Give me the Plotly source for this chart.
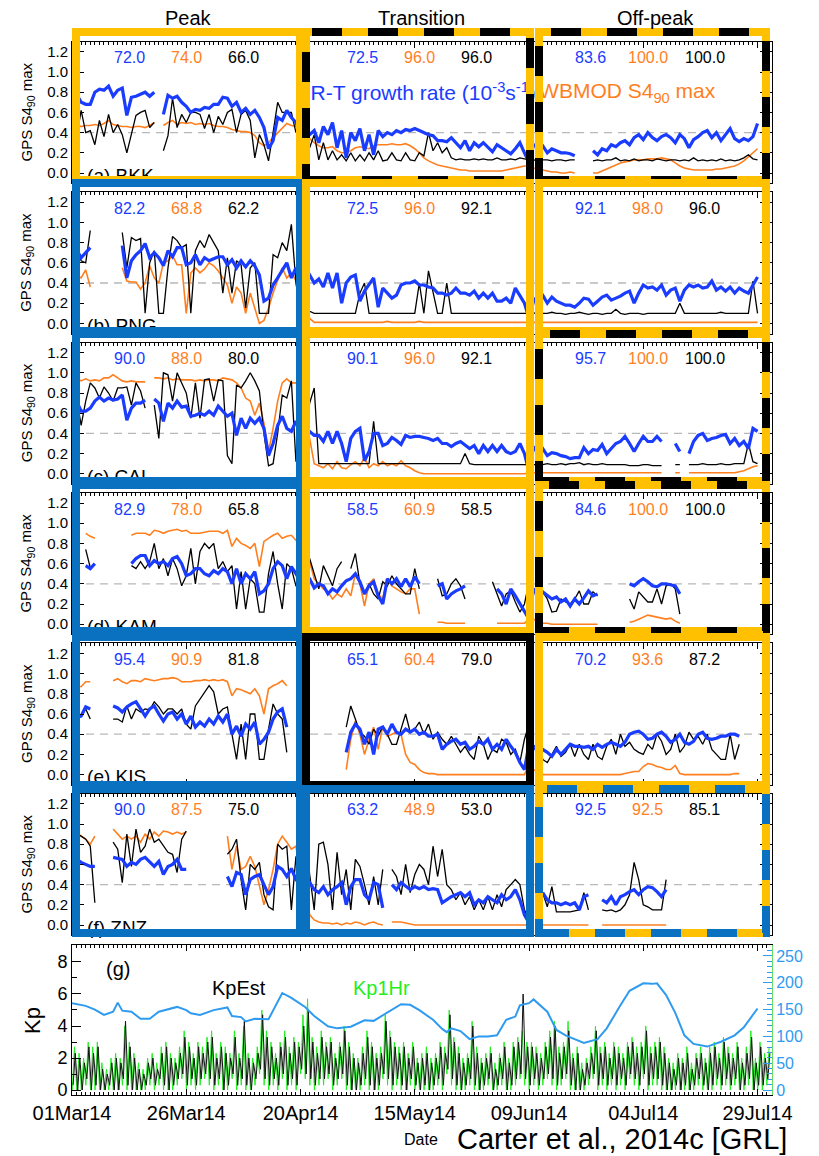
import pandas as pd
import plotly.graph_objects as go
from plotly.subplots import make_subplots

START = "2014-03-01"
NDAYS = 151
_ = None

def pad(v, n=NDAYS):
    return (list(v) + [None] * n)[:n]

# ---------------- S4 panel data (daily, from 01Mar14) ----------------
bkk_rt = [0.80,0.78,0.70,0.68,0.68,0.80,0.83,0.82,0.86,0.76,
          0.82,0.84,0.57,0.75,0.76,0.78,0.80,0.76,0.80,_,
          0.58,0.77,0.74,0.76,0.70,0.66,0.60,0.63,0.62,0.65,
          0.64,0.68,0.68,0.75,0.74,0.66,0.70,0.60,0.64,0.58,
          0.62,0.55,0.45,0.24,0.32,0.55,0.52,0.62,0.55,0.50,
          0.40,0.48,0.38,0.42,0.30,0.46,0.38,0.50,0.25,0.42,
          0.15,0.40,0.32,0.44,0.22,0.38,0.18,0.42,0.36,0.40,
          0.38,0.42,0.40,0.43,0.42,0.44,0.42,0.40,0.38,0.37,
          0.32,0.32,0.31,0.35,0.30,0.25,0.32,0.22,0.30,0.26,
          0.30,0.25,0.21,0.28,0.25,0.22,0.19,0.24,0.30,0.20,
          0.10,0.28,0.26,0.27,0.20,0.24,0.22,0.20,0.20,0.19,
          0.17,_,_,_,0.22,0.18,0.24,0.22,0.28,0.26,
          0.30,0.32,0.28,0.35,0.38,0.33,0.40,0.35,0.32,0.36,
          0.38,0.35,0.30,0.38,0.34,0.25,0.33,0.36,0.40,0.42,
          0.35,0.40,0.32,0.38,0.44,0.34,0.31,0.34,0.32,0.36,0.49]
bkk_gps = [0.40,0.35,0.62,0.40,0.42,0.28,0.52,0.36,0.58,0.40,
           0.48,0.38,0.20,0.38,0.57,0.60,0.62,0.45,0.50,_,
           0.22,0.37,0.74,0.45,0.58,0.50,0.60,0.60,0.58,0.44,
           0.58,0.40,0.56,0.48,0.60,0.63,0.40,0.58,0.62,0.52,
           0.15,0.38,0.28,0.12,0.40,0.70,0.60,0.60,0.60,0.40,
           0.60,0.55,0.25,0.38,0.13,0.30,0.13,0.22,0.13,0.18,
           0.12,0.20,0.12,0.18,0.12,0.20,0.13,0.22,0.12,0.13,
           0.20,0.13,0.12,0.20,0.13,0.12,0.20,0.17,0.40,0.22,
           0.30,0.20,0.25,0.15,0.13,0.14,0.13,0.13,0.14,0.13,
           0.14,0.13,0.13,0.15,0.13,0.13,0.14,0.13,0.15,0.14,
           0.13,0.13,0.12,0.13,0.13,0.12,0.13,0.13,0.12,0.13,
           0.13,_,_,_,0.12,0.13,0.12,0.13,0.13,0.15,
           0.12,0.13,0.12,0.14,0.12,0.13,0.13,0.12,0.14,0.13,
           0.12,0.13,0.13,0.12,0.13,0.12,0.15,0.12,0.13,0.12,
           0.13,0.12,0.14,0.12,0.13,0.12,0.13,0.15,0.18,0.14,0.13]
bkk_wb = [0.49,0.48,0.46,0.47,0.47,0.48,0.47,0.49,0.52,0.48,
          0.47,0.46,0.46,0.45,0.46,0.46,0.45,0.47,0.50,_,
          0.47,0.50,0.52,0.48,0.50,0.49,0.50,0.48,0.49,0.48,
          0.49,0.47,0.46,0.46,0.45,0.43,0.42,0.41,0.41,0.40,
          0.37,0.30,0.27,0.30,0.35,0.40,0.45,0.49,0.47,0.46,
          0.43,0.38,0.34,0.30,0.27,0.25,0.25,0.26,0.22,0.20,
          0.20,0.22,0.25,0.26,0.25,0.24,0.27,0.28,0.28,0.28,
          0.29,0.28,0.28,0.29,0.27,0.24,0.20,0.15,0.12,0.10,
          0.08,0.07,0.06,0.05,0.04,0.03,0.03,0.02,0.02,0.02,
          0.02,0.02,0.02,0.02,0.02,0.03,0.04,0.05,0.06,0.07,
          0.07,0.05,0.04,0.03,0.02,0.01,0.01,0.00,0.00,0.01,
          0.00,_,_,_,0.00,0.00,0.02,0.04,0.06,0.08,
          0.10,0.11,0.12,0.13,0.13,0.13,0.14,0.14,0.14,0.15,
          0.14,0.13,0.10,0.07,0.05,0.04,0.03,0.03,0.03,0.03,
          0.03,0.04,0.04,0.05,0.06,0.07,0.09,0.12,0.16,0.20,0.24]

png_rt = [0.78,0.73,0.65,0.70,0.75,_,_,_,_,_,
          _,0.77,0.45,0.62,0.68,0.72,0.79,0.65,0.70,0.65,
          0.57,0.72,0.66,0.75,0.75,0.58,0.60,0.68,0.58,0.65,
          0.62,0.64,0.66,0.66,0.58,0.63,0.55,0.62,0.56,0.62,
          0.57,0.48,0.22,0.25,0.38,0.45,0.52,0.60,0.45,0.55,
          0.40,0.42,0.48,0.40,0.44,0.36,0.50,0.35,0.50,0.20,
          0.40,0.46,0.48,0.22,0.32,0.38,0.45,0.16,0.35,0.30,
          0.25,0.28,0.38,0.40,0.40,0.42,0.38,0.38,0.36,0.35,
          0.30,0.30,0.28,0.30,0.35,0.30,0.30,0.28,0.32,0.25,
          0.30,0.25,0.30,0.22,0.22,0.25,0.20,0.35,0.28,0.20,
          0.05,0.22,0.28,0.28,0.20,0.26,0.22,0.20,0.18,0.18,
          0.16,0.20,0.25,0.24,0.18,0.22,0.26,0.28,0.23,0.25,
          0.27,0.30,0.32,0.20,0.30,0.38,0.35,0.36,0.33,0.38,
          0.28,0.33,0.35,0.22,0.33,0.38,0.36,0.38,0.35,0.36,
          0.42,0.33,0.36,0.32,0.36,0.30,0.35,0.32,0.30,0.38,0.46]
png_gps = [0.78,0.75,0.62,0.60,0.92,_,_,_,_,_,
           _,0.90,0.55,0.85,0.82,0.84,0.10,0.60,0.72,0.10,
           0.10,0.55,0.86,0.82,0.75,0.78,0.10,0.72,0.82,0.75,
           0.88,0.80,0.72,0.30,0.65,0.30,0.62,0.58,0.15,0.55,
           0.60,0.10,0.10,0.10,0.68,0.65,0.80,0.72,0.98,0.40,
           0.10,0.18,0.12,0.10,0.10,0.10,0.10,0.10,0.10,0.10,
           0.10,0.10,0.10,0.30,0.40,0.10,0.10,0.10,0.10,0.10,
           0.10,0.10,0.10,0.10,0.10,0.10,0.40,0.10,0.52,0.32,
           0.10,0.10,0.40,0.10,0.10,0.10,0.10,0.10,0.10,0.10,
           0.10,0.10,0.10,0.10,0.10,0.10,0.10,0.10,0.10,0.10,
           0.10,0.10,0.11,0.10,0.10,0.11,0.10,0.10,0.09,0.10,
           0.10,0.11,0.10,0.09,0.10,0.10,0.09,0.10,0.10,0.14,
           0.10,0.09,0.10,0.10,0.10,0.09,0.10,0.10,0.10,0.10,
           0.10,0.10,0.10,0.20,0.10,0.10,0.10,0.10,0.10,0.10,
           0.10,0.10,0.11,0.10,0.10,0.10,0.10,0.10,0.10,0.42,0.10]
png_wb = [0.50,0.48,0.45,0.53,0.36,_,_,_,_,_,
          _,0.55,0.42,0.41,0.41,0.34,0.40,0.57,0.45,0.40,
          0.60,0.62,0.67,0.58,0.58,0.10,0.50,0.55,0.50,0.54,
          0.60,0.57,0.52,0.45,0.38,0.20,0.36,0.30,0.10,0.30,
          0.15,0.00,0.03,0.15,0.30,0.42,0.55,0.45,0.50,0.42,
          0.15,0.12,0.05,0.01,0.01,0.01,0.01,0.01,0.01,0.01,
          0.01,0.01,0.01,0.01,0.01,0.01,0.01,0.01,0.01,0.02,
          0.01,0.01,0.01,0.01,0.01,0.01,0.02,0.01,0.01,0.01,
          0.01,0.01,0.01,0.01,0.01,0.01,0.01,0.01,0.01,0.01,
          0.01,0.01,0.01,0.01,0.01,0.01,0.01,0.01,0.01,0.01,
          0.01,0.01,0.01,0.01,0.01,0.01,0.01,0.01,0.01,0.01,
          0.01,0.01,0.01,0.01,0.01,0.01,0.01,0.01,0.01,0.01,
          0.01,0.01,0.01,0.01,0.01,0.01,0.01,0.01,0.01,0.01,
          0.01,0.01,0.01,0.01,0.01,0.01,0.01,0.01,0.01,0.01,
          0.01,0.01,0.01,0.01,0.01,0.01,0.01,0.01,0.01,0.01,0.01]

cal_rt = [0.76,0.72,0.62,0.62,0.65,0.72,0.76,0.72,0.75,0.73,
          0.74,0.78,0.53,0.65,0.70,0.70,0.73,_,0.74,0.70,
          0.52,0.70,0.65,0.72,0.66,0.67,0.57,0.58,0.60,0.58,
          0.62,0.58,0.67,0.62,0.57,0.60,0.38,0.55,0.45,0.55,
          0.50,0.55,0.45,0.18,0.30,0.48,0.57,0.45,0.42,0.52,
          0.45,0.30,0.42,0.38,0.38,0.32,0.42,0.30,0.42,0.30,
          0.12,0.35,0.42,0.45,0.13,0.22,0.40,0.40,0.28,0.30,
          0.36,0.33,0.29,0.38,0.36,0.37,0.37,0.36,0.35,0.33,
          0.35,0.30,0.30,0.27,0.30,0.32,0.28,0.25,0.28,0.20,
          0.28,0.22,0.28,0.22,0.28,0.22,0.20,0.22,0.30,0.20,
          0.02,0.27,0.20,0.25,0.18,0.21,0.20,0.18,0.17,0.15,
          0.16,0.16,0.26,0.20,0.24,0.23,0.29,0.20,0.25,0.30,
          0.32,0.37,0.30,0.22,0.30,0.37,0.32,0.32,0.37,0.32,
          _,_,0.30,0.22,_,0.20,0.32,0.38,0.40,0.33,
          0.35,0.36,0.38,0.39,0.30,0.35,0.28,0.32,0.25,0.45,0.42]
cal_gps = [0.70,0.75,0.48,0.72,0.90,0.85,0.75,0.86,0.80,0.72,
           0.85,0.85,0.86,0.68,0.90,0.82,0.65,_,0.68,0.35,
           1.00,0.98,0.72,1.00,0.90,0.80,0.55,0.90,0.55,0.93,
           0.94,0.72,0.93,0.92,0.18,0.10,0.88,0.85,0.92,1.00,
           0.92,0.82,0.40,0.08,0.10,0.40,0.78,0.75,0.92,0.12,
           0.55,0.35,0.70,0.85,0.10,0.10,0.10,0.10,0.10,0.10,
           0.10,0.10,0.10,0.10,0.10,0.10,0.52,0.10,0.10,0.10,
           0.10,0.10,0.10,0.10,0.10,0.10,0.10,0.10,0.10,0.10,
           0.10,0.10,0.10,0.10,0.10,0.10,0.20,0.10,0.09,0.09,
           0.09,0.09,0.09,0.09,0.09,0.09,0.09,0.09,0.09,0.09,
           0.09,0.09,0.09,0.09,0.10,0.09,0.09,0.10,0.09,0.10,
           0.10,0.11,0.09,0.10,0.09,0.09,0.10,0.09,0.09,0.09,
           0.09,0.09,0.08,0.08,0.08,0.09,0.09,0.08,0.08,0.08,
           _,_,0.09,0.09,_,0.09,0.09,0.09,0.10,0.09,
           0.09,0.09,0.10,0.09,0.09,0.10,0.10,0.10,0.30,0.12,0.10]
cal_wb = [0.95,0.95,0.92,0.94,0.92,0.93,0.92,0.95,0.95,0.98,
          0.95,0.92,0.91,0.92,0.91,0.91,0.91,_,0.95,0.95,
          0.94,0.95,0.93,0.94,0.93,0.93,0.93,0.92,0.93,0.92,
          0.93,0.93,0.92,0.95,0.94,0.93,0.90,0.85,0.75,0.72,
          0.58,0.70,0.50,0.22,0.45,0.72,0.90,0.94,0.90,0.90,
          0.85,0.45,0.35,0.10,0.08,0.06,0.10,0.05,0.12,0.06,
          0.05,0.09,0.12,0.08,0.16,0.06,0.10,0.08,0.12,0.08,
          0.10,0.08,0.13,0.08,0.06,0.03,0.01,0.00,0.00,0.00,
          0.00,0.00,0.00,0.00,0.00,0.00,0.00,0.00,0.00,0.00,
          0.00,0.00,0.00,0.00,0.00,0.00,0.00,0.00,0.00,0.00,
          0.01,0.01,0.01,0.01,0.01,0.01,0.01,0.01,0.01,0.01,
          0.01,0.01,0.01,0.01,0.01,0.01,0.01,0.01,0.01,0.01,
          0.01,0.01,0.01,0.01,0.01,0.01,0.01,0.01,0.01,0.01,
          _,_,0.01,0.01,_,0.01,0.01,0.01,0.01,0.01,
          0.01,0.01,0.01,0.01,0.01,0.01,0.02,0.03,0.05,0.07,0.08]

kam_rt = [_,_,_,0.58,0.55,0.60,_,_,_,_,
          _,_,_,0.60,0.65,0.68,0.68,0.58,0.63,0.60,
          0.62,0.58,0.65,0.67,0.60,0.48,0.50,0.55,0.55,0.50,
          0.48,0.53,0.50,0.55,0.52,0.40,0.55,0.40,0.50,0.45,
          0.52,0.30,0.33,0.40,0.55,0.62,0.58,0.45,0.57,0.50,
          0.42,0.45,0.45,0.36,0.40,0.38,0.30,0.35,0.32,0.38,
          0.43,0.45,0.50,0.42,0.30,0.38,0.42,0.28,0.20,0.45,
          0.40,0.45,0.37,0.45,0.37,0.47,0.40,_,_,_,
          0.38,0.40,0.25,0.30,0.33,0.35,0.38,_,_,_,
          _,_,_,0.35,0.30,0.20,0.35,0.28,0.20,0.12,
          0.05,0.35,0.30,0.32,0.28,0.25,0.27,0.22,0.25,0.18,
          0.25,0.20,0.26,0.33,0.28,0.30,_,_,_,_,
          _,_,0.40,0.38,0.42,0.45,0.42,0.38,0.37,0.40,
          0.40,0.39,0.38,0.30]
kam_gps = [_,_,_,0.74,0.56,_,_,_,_,_,
           _,_,_,0.58,0.55,0.62,0.55,0.62,0.80,0.55,
           0.65,0.48,0.65,0.55,0.38,0.48,0.75,0.40,0.72,0.80,
           0.75,0.80,0.55,0.62,0.52,0.58,0.15,0.52,0.15,0.45,
           0.40,0.12,0.12,0.50,0.72,0.40,0.15,0.60,0.55,0.38,
           0.35,0.40,0.65,0.50,0.35,0.58,0.48,0.38,0.55,0.62,
           _,0.55,0.70,0.40,0.30,0.40,0.30,0.25,0.42,0.38,
           0.48,0.40,0.35,0.30,0.30,0.55,0.35,_,_,_,
           0.45,0.28,0.30,0.40,0.45,0.38,0.25,_,_,_,
           _,_,0.42,0.30,0.18,0.30,0.33,0.22,0.12,0.20,
           0.42,0.35,0.22,0.32,0.25,0.12,0.13,0.25,0.22,0.20,
           0.25,0.33,0.20,0.20,0.32,0.28,_,_,_,_,
           _,_,0.25,0.15,0.32,0.27,0.22,0.22,0.35,0.20,
           0.38,0.40,0.35,0.10]
kam_wb = [_,_,_,0.90,0.87,0.85,_,_,_,_,
          _,_,_,0.88,0.90,0.90,0.90,0.88,0.93,0.92,
          0.90,0.92,0.93,0.94,0.92,0.93,0.90,0.90,0.90,0.91,
          0.92,0.92,0.92,0.90,0.93,0.77,0.85,0.80,0.78,0.75,
          0.80,0.57,0.82,0.85,0.88,0.90,0.85,0.87,0.88,0.83,
          0.82,0.75,0.62,0.45,0.40,0.35,0.32,0.25,0.30,0.27,
          0.35,0.28,0.50,0.40,0.18,0.40,0.45,0.30,0.25,0.45,
          0.38,0.35,0.32,0.30,0.35,0.35,0.10,_,_,_,
          0.02,0.02,0.01,0.01,0.01,0.01,0.01,_,_,_,
          _,_,_,0.01,0.01,0.01,0.01,0.01,0.01,0.01,
          0.05,0.05,0.02,0.01,0.01,0.00,0.00,0.00,0.00,0.00,
          0.00,0.00,0.00,0.00,0.00,0.00,_,_,_,_,
          _,_,0.02,0.03,0.05,0.07,0.09,0.08,0.07,0.06,
          0.05,0.06,0.03,0.01]

kis_rt = [0.57,0.57,0.58,0.67,0.65,_,_,_,_,0.68,
          0.66,0.62,0.67,0.70,0.72,0.65,0.58,0.65,0.68,0.60,
          0.53,0.60,0.62,0.55,0.60,0.50,0.58,0.47,0.52,0.48,
          0.55,0.50,0.58,0.52,0.60,0.40,0.48,0.38,0.50,0.45,
          0.52,0.30,0.35,0.42,0.55,0.62,0.65,0.47,_,_,
          _,_,_,_,_,_,_,_,_,_,
          0.22,0.42,0.50,0.45,0.30,0.42,0.20,0.45,0.47,0.40,
          0.50,0.42,0.40,0.45,0.42,0.45,0.40,0.42,0.38,0.38,
          0.40,0.25,0.30,0.33,0.35,0.30,0.32,0.25,0.28,0.33,
          0.30,0.35,0.25,0.30,0.25,0.35,0.28,0.22,0.12,0.05,
          0.30,0.28,0.22,0.25,0.22,0.18,0.25,0.20,0.25,0.30,
          0.28,0.28,0.27,0.28,0.25,0.30,0.27,0.30,0.32,0.30,
          0.28,0.32,0.40,0.42,0.43,0.40,0.35,0.36,0.40,0.42,
          0.38,0.32,0.35,0.40,0.32,0.30,0.33,0.40,0.42,0.36,
          0.35,0.36,0.38,0.38,0.40,0.40,0.38]
kis_gps = [0.55,0.55,0.58,0.65,0.55,_,_,_,_,0.55,
           0.55,0.52,0.68,0.55,0.65,0.62,0.65,0.64,0.72,0.67,
           0.60,0.65,0.65,0.60,0.65,0.50,0.45,0.68,0.75,0.82,
           0.88,0.82,0.60,0.65,0.67,0.40,0.15,0.50,0.15,0.60,
           0.60,0.15,0.15,0.45,0.70,0.60,0.55,0.22,_,_,
           _,_,_,_,_,_,_,_,_,_,
           0.47,0.68,0.55,0.42,0.38,0.30,0.45,0.38,0.48,0.40,
           0.30,0.30,0.45,0.60,0.42,0.45,0.52,0.40,0.50,0.35,
           0.42,0.35,0.30,0.38,0.30,0.22,0.28,0.20,0.15,0.38,
           0.30,0.15,0.25,0.22,0.35,0.32,0.20,0.25,0.12,0.35,
           0.50,0.25,0.35,0.15,0.12,0.20,0.28,0.18,0.22,0.30,
           0.18,0.30,0.20,0.15,0.30,0.18,0.15,0.28,0.35,0.20,
           0.40,0.28,0.32,0.25,0.22,0.20,0.30,0.25,0.40,0.33,
           0.20,0.25,0.40,0.22,0.28,0.42,0.35,0.38,0.30,0.40,
           0.25,0.20,0.15,0.15,0.40,0.15,0.30]
kis_wb = [0.88,0.88,0.87,0.92,0.92,_,_,_,_,0.93,
          0.95,0.92,0.90,0.93,0.93,0.92,0.95,0.94,0.93,0.94,
          0.95,0.95,0.96,0.95,0.92,0.92,0.92,0.93,0.93,0.94,
          0.93,0.94,0.93,0.94,0.92,0.78,0.85,0.84,0.82,0.80,
          0.85,0.78,0.60,0.85,0.88,0.90,0.93,0.88,_,_,
          _,_,_,_,_,_,_,_,_,_,
          0.05,0.35,0.53,0.40,0.20,0.35,0.47,0.25,0.48,0.38,
          0.40,0.42,0.40,0.20,0.12,0.10,0.05,0.02,0.01,0.01,
          0.00,0.00,0.00,0.00,0.00,0.00,0.00,0.00,0.00,0.00,
          0.00,0.00,0.00,0.00,0.00,0.00,0.00,0.00,0.00,0.00,
          0.10,0.05,0.02,0.00,0.00,0.00,0.00,0.00,0.00,0.00,
          0.00,0.00,0.00,0.00,0.00,0.00,0.00,0.00,0.00,0.00,
          0.00,0.01,0.02,0.03,0.03,0.08,0.11,0.10,0.08,0.07,
          0.05,0.05,0.09,0.01,0.00,0.00,0.00,0.00,0.00,0.00,
          0.00,0.00,0.00,0.00,0.00,0.01,0.01]

znz_rt = [0.66,0.65,0.62,0.60,0.58,0.58,_,_,_,0.67,
          0.66,0.65,0.58,0.62,0.60,0.65,0.67,0.62,0.58,0.63,
          0.50,0.58,0.60,0.65,0.55,0.55,_,_,_,_,
          _,_,_,_,0.48,0.38,0.52,0.50,0.30,0.45,
          0.48,0.50,0.40,0.30,0.38,0.58,0.55,0.48,0.56,0.45,
          0.40,0.40,0.42,0.35,0.32,0.38,0.30,0.35,0.38,0.42,
          0.20,0.38,0.45,0.45,0.30,0.25,0.42,0.40,0.17,_,
          0.40,0.35,0.42,0.38,0.35,0.38,0.36,0.38,0.35,0.36,
          0.35,0.22,0.25,0.28,0.30,0.32,0.28,0.32,0.20,0.25,
          0.22,0.28,0.25,0.22,0.30,0.25,0.28,0.35,0.25,0.10,
          0.02,_,_,0.32,0.25,0.22,0.22,0.20,0.22,0.20,
          0.22,0.15,0.28,0.30,_,_,0.25,0.22,0.28,0.20,
          0.28,0.30,0.33,0.35,0.30,0.35,0.38,0.37,0.33,0.28,
          0.35]
znz_gps = [0.92,0.90,0.88,0.85,0.78,0.22,_,_,_,0.82,
           0.75,0.42,0.90,0.58,0.95,0.72,0.78,0.95,0.82,0.85,
           0.78,0.72,0.70,0.52,0.85,0.93,_,_,_,_,
           _,_,_,_,0.70,0.75,0.85,0.45,0.15,0.60,
           0.55,0.62,0.30,0.18,0.15,0.80,0.75,0.78,0.15,0.68,
           0.15,0.98,0.50,0.15,0.80,0.82,0.60,0.15,0.72,0.30,
           0.55,0.15,0.65,0.58,0.40,0.20,0.48,0.20,0.55,_,
           0.55,0.48,0.30,0.60,0.32,0.50,0.60,0.55,0.40,0.78,
           0.48,0.75,0.40,0.35,0.25,0.32,0.20,0.28,0.15,0.25,
           0.15,0.28,0.15,0.30,0.18,0.35,0.40,0.45,0.40,0.15,
           0.05,_,_,0.32,0.18,0.38,0.13,0.13,0.13,0.13,
           0.14,0.15,0.32,0.15,_,_,0.15,0.14,0.15,0.13,
           0.15,0.20,0.30,0.62,0.45,0.20,0.18,0.15,0.15,0.15,
           0.45]
znz_wb = [0.92,0.92,0.88,0.85,0.80,0.88,_,_,_,0.95,
          0.90,0.85,0.88,0.85,0.88,0.82,0.90,0.85,0.92,0.88,
          0.93,0.92,0.90,0.92,0.90,0.92,_,_,_,_,
          _,_,_,_,0.88,0.55,0.78,0.55,0.58,0.68,
          0.58,0.40,0.20,0.35,0.55,0.80,0.88,0.82,0.75,0.78,
          0.50,0.38,0.10,0.05,0.03,0.02,0.02,0.01,0.02,0.00,
          0.02,0.01,0.03,0.02,0.00,0.02,0.03,0.01,0.00,_,
          0.03,0.03,0.03,0.02,0.01,0.00,0.00,0.00,0.00,0.00,
          0.00,0.00,0.00,0.00,0.00,0.00,0.00,0.00,0.00,0.00,
          0.00,0.00,0.00,0.00,0.00,0.00,0.00,0.00,0.00,0.00,
          0.00,_,_,0.00,0.00,0.00,0.00,0.00,0.00,0.00,
          0.00,0.00,0.00,0.00,_,_,0.00,0.00,0.00,0.00,
          0.00,0.00,0.00,0.00,0.00,0.00,0.00,0.00,0.00,0.00,
          0.00]

station_labels = ["(a) BKK", "(b) PNG", "(c) CAL", "(d) KAM", "(e) KIS", "(f) ZNZ"]
rt_series = [bkk_rt, png_rt, cal_rt, kam_rt, kis_rt, znz_rt]
wb_series = [bkk_wb, png_wb, cal_wb, kam_wb, kis_wb, znz_wb]
gps_series = [bkk_gps, png_gps, cal_gps, kam_gps, kis_gps, znz_gps]

# percentages per row: (Peak, Transition, Off-peak) x (R-T, WBMOD, GPS)
pct_values = [
    [("72.0", "74.0", "66.0"), ("72.5", "96.0", "96.0"), ("83.6", "100.0", "100.0")],
    [("82.2", "68.8", "62.2"), ("72.5", "96.0", "92.1"), ("92.1", "98.0", "96.0")],
    [("90.0", "88.0", "80.0"), ("90.1", "96.0", "92.1"), ("95.7", "100.0", "100.0")],
    [("82.9", "78.0", "65.8"), ("58.5", "60.9", "58.5"), ("84.6", "100.0", "100.0")],
    [("95.4", "90.9", "81.8"), ("65.1", "60.4", "79.0"), ("70.2", "93.6", "87.2")],
    [("90.0", "87.5", "75.0"), ("63.2", "48.9", "53.0"), ("92.5", "92.5", "85.1")],
]
season_names = ["Peak", "Transition", "Off-peak"]
season_start_day = [0, 51, 101]
frame_styles = [
    ["gold", "gold_black", "gold_black"],
    ["blue", "gold", "gold"],
    ["blue", "gold", "gold_black"],
    ["blue", "gold", "gold_black"],
    ["blue", "black", "gold"],
    ["blue", "blue", "gold_blue"],
]

# ---------------- Kp panel data ----------------
kpest_hi = [2.3,2.0,1.7,2.7,2.3,2.7,1.3,1.0,1.7,2.0,
            1.7,4.3,2.7,2.0,1.3,1.0,1.7,2.0,1.3,2.3,
            2.7,2.0,1.7,2.3,3.3,2.7,2.0,2.7,2.3,3.0,
            3.3,2.0,2.7,2.3,2.0,3.3,2.0,4.3,2.0,1.7,
            2.3,4.7,3.3,2.7,2.0,2.7,3.3,2.3,3.0,2.7,
            4.0,5.0,3.0,2.3,3.3,2.7,3.0,2.0,2.7,3.7,
            2.7,2.0,1.7,2.3,3.3,2.7,2.0,2.3,4.3,3.3,
            2.7,2.3,2.7,2.0,2.7,1.7,2.0,2.3,1.7,2.0,
            2.7,2.3,4.7,3.0,2.3,1.7,2.0,4.0,2.3,1.7,
            2.0,2.3,1.3,2.0,2.7,1.7,2.7,3.0,6.0,2.7,
            2.7,2.3,2.0,2.7,3.3,4.0,2.3,2.7,3.7,2.0,
            2.3,1.3,1.7,2.3,3.7,2.3,2.7,2.0,2.7,2.3,
            2.0,2.7,3.0,2.3,2.7,3.7,2.3,2.7,3.0,2.3,
            1.7,1.3,2.0,1.7,2.3,1.3,2.0,2.3,1.7,2.3,
            2.7,2.0,3.0,2.3,2.0,2.7,1.7,2.3,3.3,1.7,
            2.7,2.0,2.3]
kpest_lo = [0.3,0.0,0.0,0.7,0.0,0.3,0.0,0.0,0.3,0.0,
            0.0,0.7,0.3,0.0,0.0,0.0,0.3,0.7,0.3,0.7,
            0.3,0.0,0.3,0.7,1.0,0.3,0.7,0.3,0.7,1.0,
            0.7,0.3,0.7,0.0,0.3,1.0,0.3,0.7,0.3,0.0,
            0.7,1.3,0.7,0.3,0.7,0.3,1.0,0.3,0.7,0.3,
            1.3,1.0,0.7,0.3,0.7,0.7,1.0,0.3,0.7,1.0,
            0.3,0.0,0.0,0.3,0.7,0.3,0.0,0.3,1.0,0.7,
            0.3,0.7,0.3,0.0,0.7,0.3,0.0,0.3,0.0,0.3,
            0.7,0.3,1.3,0.7,0.3,0.0,0.3,0.7,0.3,0.0,
            0.3,0.7,0.0,0.3,0.7,0.0,0.3,0.7,1.0,0.7,
            0.3,0.7,0.3,0.7,1.0,0.7,0.3,0.7,1.0,0.3,
            0.0,0.0,0.3,0.7,1.0,0.3,0.7,0.3,0.7,0.3,
            0.7,0.3,1.0,0.7,0.3,1.0,0.3,0.7,0.7,0.3,
            0.0,0.0,0.3,0.0,0.3,0.0,0.3,0.7,0.3,0.0,
            0.3,0.7,0.3,0.7,0.3,0.7,0.0,0.3,0.7,0.0,
            0.3,0.3,0.7]
kp1h_hi = [2.7,2.3,2.0,3.0,2.7,3.0,1.7,1.3,2.0,2.3,
           2.0,4.0,3.0,2.3,1.7,1.3,2.0,2.3,1.7,2.7,
           3.0,2.3,2.0,2.7,3.7,3.0,2.3,3.0,2.7,3.3,
           3.7,2.3,3.0,2.7,2.3,3.7,2.3,4.0,2.3,2.0,
           2.7,5.0,3.7,3.0,2.3,3.0,3.7,2.7,3.3,3.0,
           4.7,5.7,3.3,2.7,3.7,3.0,3.3,2.3,3.0,4.0,
           3.0,2.3,2.0,2.7,3.7,3.0,2.3,2.7,4.7,3.7,
           3.0,2.7,3.0,2.3,3.0,2.0,2.3,2.7,2.0,2.3,
           3.0,2.7,5.0,3.3,2.7,2.0,2.3,4.3,2.7,2.0,
           2.3,2.7,1.7,2.3,3.0,2.0,3.0,3.3,3.7,3.0,
           3.0,2.7,2.3,3.0,3.7,4.3,2.7,3.0,4.3,2.3,
           2.7,1.7,2.0,2.7,4.0,2.7,3.0,2.3,3.0,2.7,
           2.3,3.0,3.3,2.7,3.0,4.0,2.7,3.0,3.3,2.7,
           2.0,1.7,2.3,2.0,2.7,1.7,2.3,2.7,2.0,2.7,
           3.0,2.3,3.3,2.7,2.3,3.0,2.0,2.7,3.7,2.0,
           3.0,2.3,2.7]
kp1h_lo = [0.0,0.0,0.0,0.3,0.0,0.0,0.0,0.0,0.0,0.0,
           0.0,0.3,0.0,0.0,0.0,0.0,0.0,0.3,0.0,0.3,
           0.0,0.0,0.0,0.3,0.7,0.0,0.3,0.0,0.3,0.7,
           0.3,0.0,0.3,0.0,0.0,0.7,0.0,0.3,0.0,0.0,
           0.3,1.0,0.3,0.0,0.3,0.0,0.7,0.0,0.3,0.0,
           1.0,0.7,0.3,0.0,0.3,0.3,0.7,0.0,0.3,0.7,
           0.0,0.0,0.0,0.0,0.3,0.0,0.0,0.0,0.7,0.3,
           0.0,0.3,0.0,0.0,0.3,0.0,0.0,0.0,0.0,0.0,
           0.3,0.0,1.0,0.3,0.0,0.0,0.0,0.3,0.0,0.0,
           0.0,0.3,0.0,0.0,0.3,0.0,0.0,0.3,0.7,0.3,
           0.0,0.3,0.0,0.3,0.7,0.3,0.0,0.3,0.7,0.0,
           0.0,0.0,0.0,0.3,0.7,0.0,0.3,0.0,0.3,0.0,
           0.3,0.0,0.7,0.3,0.0,0.7,0.0,0.3,0.3,0.0,
           0.0,0.0,0.0,0.0,0.0,0.0,0.0,0.3,0.0,0.0,
           0.0,0.3,0.0,0.3,0.0,0.3,0.0,0.0,0.3,0.0,
           0.0,0.0,0.3]
f107_day = [0,3,5,7,9,10,11,13,15,17,19,23,25,26,28,31,34,35,37,38,
            40,43,46,48,51,53,56,58,61,64,66,70,72,74,76,79,81,82,83,85,
            87,89,91,93,95,97,98,100,101,104,106,108,110,112,115,117,120,122,125,127,
            128,130,132,134,136,139,142,145,147,150]
f107_val = [162,157,150,140,146,163,148,146,133,133,146,155,149,143,140,149,154,138,136,128,
            133,132,181,172,155,138,119,115,118,130,129,149,160,159,149,131,114,108,115,110,
            95,100,100,102,131,137,158,162,169,146,112,102,95,88,95,115,158,185,199,198,
            199,177,144,102,86,81,90,102,117,152]

# ---------------- styling ----------------
FONT = "Liberation Sans, Arial, Helvetica, sans-serif"
C_BLUE = "#1a3cff"
C_ORANGE = "#ff7f1e"
C_F107 = "#2f9bf0"
C_KP1H = "#22ee22"
GOLD = "#ffc000"
FBLUE = "#0a70c0"
W, H = 819, 1156
L, R = 72, 47
PW = W - L - R

base = pd.Timestamp(START)
def dstr(d):
    return (base + pd.Timedelta(days=d)).strftime("%Y-%m-%d %H:%M")

dates = [dstr(d) for d in range(NDAYS)]

def py(px):
    return 1 - px / H

def pxx(px):
    return (px - L) / PW

fig = make_subplots(rows=7, cols=1,
                    specs=[[{}], [{}], [{}], [{}], [{}], [{}], [{"secondary_y": True}]])

for k in range(6):
    r = k + 1
    fig.add_trace(go.Scatter(x=dates, y=pad(wb_series[k]), mode="lines",
                             line=dict(color=C_ORANGE, width=1.6), hoverinfo="skip",
                             showlegend=False), row=r, col=1)
    fig.add_trace(go.Scatter(x=dates, y=pad(gps_series[k]), mode="lines",
                             line=dict(color="black", width=1.3), hoverinfo="skip",
                             showlegend=False), row=r, col=1)
    fig.add_trace(go.Scatter(x=dates, y=pad(rt_series[k]), mode="lines",
                             line=dict(color=C_BLUE, width=3.2), hoverinfo="skip",
                             showlegend=False), row=r, col=1)
    fig.add_trace(go.Scatter(x=[dstr(3.3)], y=[-0.04], mode="text", text=[station_labels[k]],
                             textposition="middle right",
                             textfont=dict(size=19, color="black", family=FONT),
                             hoverinfo="skip", showlegend=False, cliponaxis=False),
                  row=r, col=1)
    fig.add_hline(y=0.4, row=r, col=1, layer="below",
                  line=dict(color="#b8b8b8", width=1.3, dash="8px,6px"))

fig.add_trace(go.Scatter(x=[dstr(52.2)], y=[0.77], mode="text",
                         text=["R-T growth rate (10<sup>-3</sup>s<sup>-1</sup>)"],
                         textposition="middle right",
                         textfont=dict(size=21, color=C_BLUE, family=FONT),
                         hoverinfo="skip", showlegend=False), row=1, col=1)
fig.add_trace(go.Scatter(x=[dstr(102.2)], y=[0.79], mode="text",
                         text=["WBMOD S4<sub>90</sub> max"],
                         textposition="middle right",
                         textfont=dict(size=21, color=C_ORANGE, family=FONT),
                         hoverinfo="skip", showlegend=False), row=1, col=1)

# Kp panel
kp1_x, kp1_y, kpe_x, kpe_y = [], [], [], []
for d in range(len(kpest_hi)):
    kp1_x += [(base + pd.Timedelta(days=d, hours=1)).strftime("%Y-%m-%d %H:%M"),
              (base + pd.Timedelta(days=d, hours=13)).strftime("%Y-%m-%d %H:%M")]
    kp1_y += [kp1h_lo[d], kp1h_hi[d]]
    kpe_x += [(base + pd.Timedelta(days=d, hours=6)).strftime("%Y-%m-%d %H:%M"),
              (base + pd.Timedelta(days=d, hours=17)).strftime("%Y-%m-%d %H:%M")]
    kpe_y += [kpest_lo[d], kpest_hi[d]]

fig.add_trace(go.Scatter(x=kp1_x, y=kp1_y, mode="lines", line=dict(color=C_KP1H, width=1),
                         hoverinfo="skip", showlegend=False), row=7, col=1)
fig.add_trace(go.Scatter(x=kpe_x, y=kpe_y, mode="lines", line=dict(color="#111111", width=1),
                         hoverinfo="skip", showlegend=False), row=7, col=1)
fig.add_trace(go.Scatter(x=[dstr(d) for d in f107_day], y=f107_val, mode="lines",
                         line=dict(color=C_F107, width=2), hoverinfo="skip",
                         showlegend=False), row=7, col=1, secondary_y=True)

# ---------------- axes ----------------
XRANGE = [START, "2014-08-01 04:00"]
DAY = 86400000
xcommon = dict(range=XRANGE, domain=[0, 1], automargin=False, showline=True,
               linecolor="black", linewidth=1, mirror="ticks",
               ticks="inside", ticklen=6, tickcolor="black", tick0=START, dtick=25 * DAY,
               showgrid=False, zeroline=False,
               minor=dict(ticks="inside", ticklen=3, dtick=DAY, tick0=START,
                          tickcolor="black", showgrid=False))
for k in range(7):
    fig.update_xaxes(row=k + 1, col=1, **xcommon)
    fig.update_xaxes(row=k + 1, col=1, showticklabels=(k == 6))
fig.update_xaxes(row=7, col=1, tickformat="%d%b%y",
                 tickfont=dict(size=20, color="black", family=FONT))

for k in range(6):
    top = 41.7 + 150.4 * k
    bot = top + 141.4
    fig.update_yaxes(row=k + 1, col=1, domain=[py(bot), py(top)], range=[-0.1, 1.3],
                     automargin=False,
                     tickvals=[0, 0.2, 0.4, 0.6, 0.8, 1.0, 1.2], tickformat=".1f",
                     ticks="inside", ticklen=12, tickcolor="black", showline=True,
                     linecolor="black", linewidth=1, mirror="ticks", showgrid=False,
                     zeroline=False, tickfont=dict(size=15, color="black", family=FONT))
fig.update_yaxes(row=7, col=1, secondary_y=False, domain=[py(1095), py(945)],
                 automargin=False,
                 range=[-0.31, 9.06], tickvals=[0, 2, 4, 6, 8], ticks="inside", ticklen=9,
                 tickcolor="black", showline=True, linecolor="black", linewidth=1,
                 showgrid=False, zeroline=False,
                 minor=dict(ticks="inside", ticklen=5, dtick=1, tickcolor="black"),
                 tickfont=dict(size=18, color="black", family=FONT))
fig.update_yaxes(row=7, col=1, secondary_y=True, range=[-9.3, 270.5], automargin=False,
                 tickvals=[0, 50, 100, 150, 200, 250], ticks="inside", ticklen=9,
                 tickcolor=C_F107, showline=True, linecolor="#66dd66", linewidth=1,
                 showgrid=False, zeroline=False,
                 minor=dict(ticks="inside", ticklen=5, dtick=10, tickcolor=C_F107),
                 tickfont=dict(size=16, color=C_F107, family=FONT))

# ---------------- annotations ----------------
def pann(text, xpx, ypx, size, color="black", angle=0, xanchor="center"):
    return dict(text=text, x=pxx(xpx), y=py(ypx), xref="paper", yref="paper",
                xanchor=xanchor, yanchor="middle", showarrow=False, textangle=angle,
                font=dict(size=size, color=color, family=FONT))

ann = []
title_x = [188, 421, 655]
for i, nm in enumerate(season_names):
    ann.append(pann(nm, title_x[i], 18, 20))
pct_colors = [C_BLUE, C_ORANGE, "black"]
pct_offsets = [12.5, 25.0, 37.5]
for k in range(6):
    xr = "x" if k == 0 else f"x{k + 1}"
    yr = "y" if k == 0 else f"y{k + 1}"
    for s in range(3):
        for j in range(3):
            ann.append(dict(text=pct_values[k][s][j], x=dstr(season_start_day[s] + pct_offsets[j]),
                            y=1.14, xref=xr, yref=yr, showarrow=False,
                            xanchor="center", yanchor="middle",
                            font=dict(size=16, color=pct_colors[j], family=FONT)))
    top = 41.7 + 150.4 * k
    ann.append(pann("GPS S4<sub>90</sub> max", 27, top + 70.7, 15, angle=-90))
ann += [
    pann("Kp", 32, 1021, 22, angle=-90),
    pann("(g)", 118, 969, 20),
    pann("KpEst", 239, 988, 20),
    pann("Kp1Hr", 381, 988, 20, color=C_KP1H),
    pann("Date", 421, 1139, 16),
    pann("Carter et al., 2014c [GRL]", 455, 1139, 29, xanchor="left"),
]

# ---------------- frames ----------------
shapes = []
col_px = [(76, 300), (306, 530), (539, 766)]
row_top = [32, 183, 334, 485, 637, 789]
row_bot = [180, 331, 481, 631, 785, 933]
FW = 8
def rect(x0, x1, y0, y1, color, dash="solid"):
    return dict(type="rect", xref="paper", yref="paper", x0=pxx(x0), x1=pxx(x1),
                y0=py(y1), y1=py(y0), line=dict(color=color, width=FW, dash=dash),
                fillcolor="rgba(0,0,0,0)", layer="above")
for k in range(6):
    for s in range(3):
        st = frame_styles[k][s]
        x0, x1 = col_px[s]
        y0, y1 = row_top[k], row_bot[k]
        if st == "gold":
            shapes.append(rect(x0, x1, y0, y1, GOLD))
        elif st == "blue":
            shapes.append(rect(x0, x1, y0, y1, FBLUE))
        elif st == "black":
            shapes.append(rect(x0, x1, y0, y1, "black"))
        elif st == "gold_black":
            shapes.append(rect(x0, x1, y0, y1, GOLD))
            shapes.append(rect(x0, x1, y0, y1, "black", "30px,26px"))
        elif st == "gold_blue":
            shapes.append(rect(x0, x1, y0, y1, GOLD))
            shapes.append(rect(x0, x1, y0, y1, FBLUE, "30px,26px"))

fig.update_layout(width=W, height=H, autosize=False,
                  margin=dict(l=L, r=R, t=0, b=0, pad=0, autoexpand=False),
                  paper_bgcolor="white", plot_bgcolor="white",
                  font=dict(family=FONT, color="black"),
                  showlegend=False, annotations=ann)
for s in shapes:
    fig.add_shape(**s)

fig.write_html("out.html", config={"displayModeBar": False},
               post_script="document.body.style.margin='0';")
